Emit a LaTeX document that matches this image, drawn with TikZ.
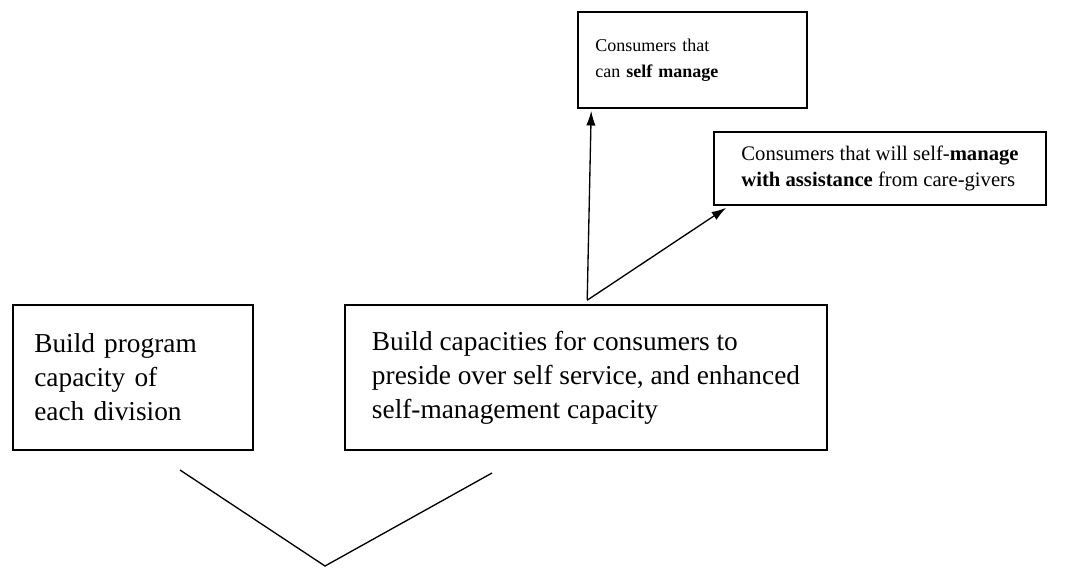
\documentclass[tikz,border=0pt]{standalone}
\usepackage{fontspec}
\setmainfont{Liberation Serif}
\usepackage{tikz}
\usetikzlibrary{arrows,arrows.meta,calc,positioning}

\tikzset{
    bigbox/.style={draw, rectangle, line width=1.2pt, inner xsep=16pt, align=left, font=\fontsize{20.5}{25.5}\selectfont},
    smallbox/.style={draw, rectangle, line width=1.2pt, inner xsep=13pt, align=left, font=\fontsize{13.5}{19.5}\selectfont},
    link/.style={-{Latex[length=11pt,width=7pt]}, line width=1pt}
}

\begin{document}
\begin{tikzpicture}[x=0.75pt, y=-0.75pt]
    \useasboundingbox (0,0) rectangle (1069,568);

    % Left box
    \node[bigbox, text width=148pt, minimum height=108.75pt] (prog) at (133, 377.5) {Build program\\capacity of\\each division};

    % Right box
    \node[bigbox, minimum width=361.5pt, minimum height=108.75pt] (cons) at (586, 377.5) {Build capacities for consumers to\\preside over self service, and enhanced\\self-management capacity};

    % Consumer groups
    \node[smallbox, text width=145.75pt, minimum height=72pt] (self) at (692.5, 60) {Consumers that\\can \textbf{self manage}};
    \node[smallbox, font=\fontsize{15.5}{19.5}\selectfont, minimum width=249pt, minimum height=54.75pt] (assist) at (880, 168.5) {Consumers that will self-\textbf{manage}\\\textbf{with assistance} from care-givers};

    % Arrows
    \coordinate (fork) at ($(cons.north west)+(243,-4)$);
    \draw[link] (fork) -- ($(self.south west)+(14,2)$);
    \draw[link] (fork) -- ($(assist.south west)+(13,2)$);

    % Lines below
    \coordinate (vl) at (180, 470);
    \coordinate (vr) at (492, 473);
    \coordinate (vtip) at (325, 566);
    \draw[line width=1pt] (vl) -- (vtip) -- (vr);
\end{tikzpicture}
\end{document}
